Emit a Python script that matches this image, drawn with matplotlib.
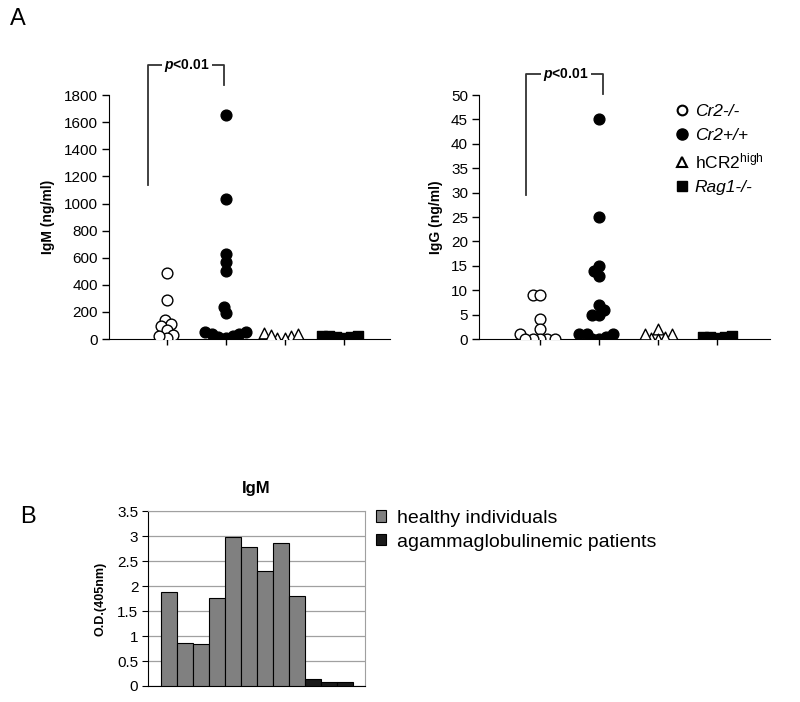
import matplotlib
matplotlib.use("Agg")
import matplotlib.pyplot as plt
import seaborn as sns
import numpy as np

plt.rcParams['font.family'] = 'Liberation Sans'
plt.rcParams['mathtext.fontset'] = 'custom'
plt.rcParams['mathtext.rm'] = 'Liberation Sans'
plt.rcParams['mathtext.it'] = 'Liberation Sans:italic'
plt.rcParams['mathtext.bf'] = 'Liberation Sans:bold'
plt.rcParams['mathtext.bfit'] = 'Liberation Sans:italic:bold'

groups = ["Cr2-/-", "Cr2+/+", "hCR2high", "Rag1-/-"]

# IgM (ng/ml)
igm_ko = [485, 290, 140, 110, 100, 70, 30, 10, 20]
igm_wt = [1650, 1030, 630, 570, 500, 240, 190, 40, 10, 50, 55, 20, 15, 40]
igm_hcr2 = [25, 10, 45, 35, 30, 5]
igm_rag = [15, 20, 25, 20, 15, 10]

# IgG (ng/ml)
igg_ko = [9, 9, 4.2, 2, 1, 0, 0, 0, 0, 0]
igg_wt = [45, 25, 15, 14, 13, 7, 6, 5, 5, 1, 0, 1, 1, 0.5, 0]
igg_hcr2 = [0.3, 1, 2, 1, 0.5, 0]
igg_rag = [0.4, 0.6, 0.5, 0.3, 0.4]

# panel B, O.D. 405nm
healthy = [1.88, 0.87, 0.84, 1.76, 2.99, 2.79, 2.31, 2.86, 1.81]
patients = [0.15, 0.08, 0.08]

styles = [
    dict(marker="o", color="white", edgecolor="black", linewidth=1),
    dict(marker="o", color="black", edgecolor="black", linewidth=1),
    dict(marker="^", color="white", edgecolor="black", linewidth=1),
    dict(marker="s", color="black", edgecolor="black", linewidth=1),
]

fig = plt.figure(figsize=(8, 7.02), dpi=100)


def swarm_panel(ax, data, ylim, step, ylabel, xlim, bracket):
    # swarm is laid out with small markers so the points overlap like the original
    for i, vals in enumerate(data):
        sns.swarmplot(x=[groups[i]] * len(vals), y=vals, order=groups,
                      size=4, ax=ax, **styles[i])
    ax.set_xlim(*xlim)
    ax.set_ylim(0, ylim)
    ax.set_yticks(np.arange(0, ylim + step, step))
    ax.set_xticks(range(4))
    ax.set_xticklabels([])
    ax.set_xlabel("")
    ax.set_ylabel(ylabel, fontsize=10, fontweight="bold", labelpad=6)
    for s in ["top", "right"]:
        ax.spines[s].set_visible(False)
    ax.tick_params(axis="y", labelsize=11, length=5, width=1, pad=3)
    ax.tick_params(axis="x", length=4, width=1)
    # significance bracket
    x0, x1, ytop, yl, yr = bracket
    ax.plot([x0, x0, x1, x1], [yl, ytop, ytop, yr], color="#333333", lw=1.3,
            clip_on=False)
    ax.text((x0 + x1) / 2 + 0.02, ytop, r"$\mathbfit{p}$<0.01", ha="center",
            va="center", fontsize=10, fontweight="bold", clip_on=False,
            bbox=dict(facecolor="white", edgecolor="none", pad=1.5))


ax1 = fig.add_axes([0.136, 0.517, 0.351, 0.3476])
swarm_panel(ax1, [igm_ko, igm_wt, igm_hcr2, igm_rag], 1800, 200,
            "IgM (ng/ml)", (-0.98, 3.78), (-0.32, 0.98, 2021, 1136, 1873))

ax2 = fig.add_axes([0.599, 0.517, 0.364, 0.3476])
swarm_panel(ax2, [igg_ko, igg_wt, igg_hcr2, igg_rag], 50, 5,
            "IgG (ng/ml)", (-1.03, 3.9), (-0.24, 1.07, 54.3, 29.6, 50.2))

# legend for panel A
handles = [
    plt.Line2D([], [], ls="none", marker="o", ms=7, mfc="white", mec="black", mew=1.5),
    plt.Line2D([], [], ls="none", marker="o", ms=8, mfc="black", mec="black"),
    plt.Line2D([], [], ls="none", marker="^", ms=7, mfc="white", mec="black", mew=1.5),
    plt.Line2D([], [], ls="none", marker="s", ms=7, mfc="black", mec="black"),
]
labels = ["Cr2-/-", "Cr2+/+", r"hCR2$^{\rm high}$", "Rag1-/-"]
leg = ax2.legend(handles, labels, loc="upper left", bbox_to_anchor=(0.835, 0.862),
                 bbox_transform=fig.transFigure, frameon=False, fontsize=12.5,
                 handlelength=0.8, handletextpad=0.35, labelspacing=0.5,
                 borderaxespad=0)
for t, it in zip(leg.get_texts(), [True, True, False, True]):
    if it:
        t.set_fontstyle("italic")

fig.text(0.012, 0.965, "A", fontsize=17)
fig.text(0.025, 0.255, "B", fontsize=17)

# panel B bar chart
ax3 = fig.add_axes([0.185, 0.0228, 0.271, 0.249])
xb = np.arange(len(healthy) + len(patients))
b1 = ax3.bar(xb[:len(healthy)], healthy, width=1, color="#808080",
             edgecolor="black", linewidth=0.8, zorder=3)
b2 = ax3.bar(xb[len(healthy):], patients, width=1, color="#1a1a1a",
             edgecolor="black", linewidth=0.8, zorder=3)
ax3.set_xlim(-1.31, 12.25)
ax3.set_ylim(0, 3.5)
ax3.set_yticks(np.arange(0, 3.51, 0.5))
ax3.set_yticklabels(["0", "0.5", "1", "1.5", "2", "2.5", "3", "3.5"])
ax3.set_xticks([])
ax3.yaxis.grid(True, color="#a0a0a0", lw=0.9, zorder=0)
ax3.spines["top"].set_color("#a0a0a0")
ax3.spines["right"].set_color("#a0a0a0")
ax3.tick_params(axis="y", labelsize=11, length=4, pad=3)
ax3.set_ylabel("O.D.(405nm)", fontsize=9, fontweight="bold", labelpad=8)
ax3.set_title("IgM", fontsize=12, fontweight="bold", pad=13)
ax3.legend([b1, b2], ["healthy individuals", "agammaglobulinemic patients"],
           loc="upper left", bbox_to_anchor=(0.46, 0.285),
           bbox_transform=fig.transFigure, frameon=False, fontsize=14,
           handlelength=0.55, handleheight=0.55, handletextpad=0.55,
           labelspacing=0.35, borderaxespad=0)

# let seaborn place the swarms once, then keep those offsets and enlarge the markers
fig.canvas.draw()
for ax in (ax1, ax2):
    for coll in ax.collections:
        if "draw" in coll.__dict__:
            del coll.__dict__["draw"]
        coll.set_sizes([60])

fig.savefig("out.png", dpi=100)
